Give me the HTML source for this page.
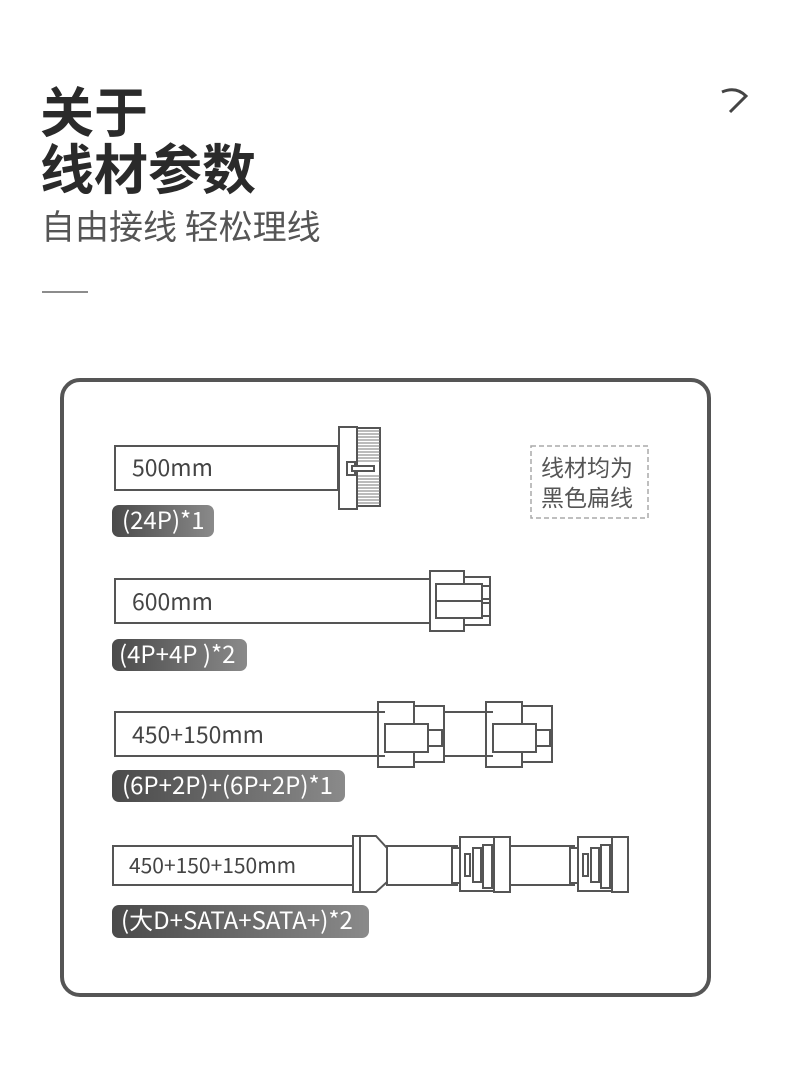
<!DOCTYPE html>
<html><head><meta charset="utf-8"><style>
body{margin:0;background:#fff;}
svg text{font-family:"Noto Sans CJK SC",sans-serif;}
</style></head><body>
<svg width="790" height="1086" viewBox="0 0 790 1086" xmlns="http://www.w3.org/2000/svg">
<defs><linearGradient id="g" x1="0" x2="1"><stop offset="0" stop-color="#4a4a4a"/><stop offset="1" stop-color="#8a8a8a"/></linearGradient></defs>
<text x="40" y="132" font-size="54" font-weight="bold" fill="#2a2a2a">关于</text>
<text x="40" y="189" font-size="54" font-weight="bold" fill="#2a2a2a">线材参数</text>
<text x="41" y="239" font-size="34" fill="#555">自由接线 轻松理线</text>
<line x1="42" y1="292" x2="88" y2="292" stroke="#666" stroke-width="1.5"/>
<path d="M722 92 Q736 86 746 96 L730 112" fill="none" stroke="#444" stroke-width="3"/>
<rect x="62" y="380" width="647" height="615" rx="18" fill="#fff" stroke="#555" stroke-width="4"/>
<g fill="#fff" stroke="#555" stroke-width="2">
<rect x="115" y="446" width="223" height="44"/>
<rect x="339" y="427" width="18" height="82"/>
<rect x="357" y="428" width="23" height="78" fill="#fff"/>
<rect x="347" y="462" width="8" height="13"/>
<rect x="352" y="466" width="22" height="5"/>
</g>
<g stroke="#777" stroke-width="1">
<path d="M358 431H380M358 434H380M358 437H380M358 440H380M358 443H380M358 446H380M358 449H380M358 452H380M358 455H380M358 458H380M358 461H380M358 476H380M358 479H380M358 482H380M358 485H380M358 488H380M358 491H380M358 494H380M358 497H380M358 500H380M358 503H380"/>
</g>
<g fill="#fff" stroke="#555" stroke-width="2">
<rect x="115" y="579" width="315" height="44"/>
<rect x="430" y="571" width="34" height="60"/>
<rect x="464" y="577" width="26" height="48"/>
<rect x="436" y="584" width="46" height="34"/>
<line x1="436" y1="601" x2="482" y2="601"/>
<rect x="482" y="586" width="8" height="13"/><rect x="482" y="603" width="8" height="13"/>
<rect x="115" y="712" width="263" height="44"/>
<rect x="444" y="712" width="42" height="44"/>
<g id="c6">
<rect x="378" y="702" width="36" height="65"/>
<rect x="414" y="706" width="30" height="56"/>
<rect x="385" y="724" width="43" height="28"/>
<rect x="428" y="730" width="14" height="16"/>
<line x1="378" y1="712" x2="385" y2="712"/><line x1="378" y1="756" x2="385" y2="756"/>
</g>
<use href="#c6" transform="translate(108,0)"/>
<rect x="113" y="846" width="240" height="39"/>
<rect x="387" y="846" width="70" height="39"/>
<rect x="510" y="846" width="64" height="39"/>
<path d="M353 836H376L387 848V882L376 892H353Z"/>
<line x1="360" y1="836" x2="360" y2="892"/>
<g id="sata">
<rect x="452" y="848" width="8" height="35"/>
<rect x="460" y="837" width="34" height="54"/>
<rect x="494" y="837" width="16" height="55"/>
<rect x="465" y="854" width="5" height="22"/>
<rect x="473" y="848" width="8" height="34"/>
<rect x="483" y="845" width="9" height="43"/>
</g>
<use href="#sata" transform="translate(118,0)"/>
</g>
<g font-size="23" fill="#444">
<text x="132" y="476">500mm</text>
<text x="132" y="610">600mm</text>
<text x="132" y="743">450+150mm</text>
<text x="129" y="873" font-size="21">450+150+150mm</text>
</g>
<g fill="url(#g)">
<rect x="112" y="505" width="102" height="32" rx="7"/>
<rect x="112" y="639" width="135" height="32" rx="7"/>
<rect x="112" y="770" width="233" height="32" rx="7"/>
<rect x="112" y="905" width="257" height="33" rx="7"/>
</g>
<g font-size="24" fill="#fff">
<text x="122" y="529">(24P)*1</text>
<text x="119" y="663">(4P+4P )*2</text>
<text x="122" y="794">(6P+2P)+(6P+2P)*1</text>
<text x="121" y="929">(大D+SATA+SATA+)*2</text>
</g>
<rect x="531" y="446" width="117" height="72" fill="none" stroke="#aaa" stroke-width="1.5" stroke-dasharray="5,3"/>
<text x="541" y="476" font-size="23" fill="#555">线材均为</text>
<text x="541" y="506" font-size="23" fill="#555">黑色扁线</text>
</svg>
</body></html>
